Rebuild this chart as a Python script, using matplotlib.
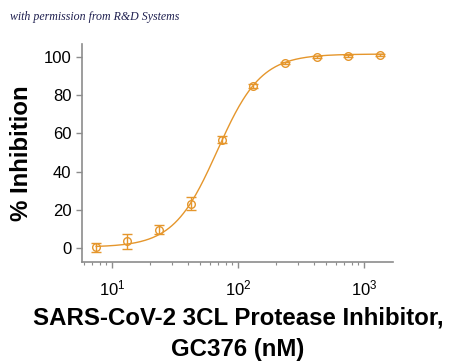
import numpy as np
import matplotlib.pyplot as plt
from matplotlib.ticker import LogLocator, NullFormatter

# Data
conc_nM = [7.5, 13.3, 23.7, 42.2, 75.0, 133.0, 237.0, 422.0, 750.0, 1333.0]
inhibition = [0.5, 3.5, 9.6, 23.2, 56.7, 85.0, 96.9, 99.8, 100.7, 101.2]
inhibition_err = [2.4, 3.7, 2.4, 3.3, 1.9, 1.0, 0.6, 0.5, 0.5, 0.5]

# 4-parameter logistic fit (parameters)
fit_bottom = 0.5
fit_top = 101.5
fit_ic50 = 68.7
fit_hill = 2.5

y_ticks = [0, 20, 40, 60, 80, 100]
xlabel_lines = ["SARS-CoV-2 3CL Protease Inhibitor,", "GC376 (nM)"]

orange = "#E5962C"
gray = "#8C8C8C"


def four_pl(x):
    return fit_bottom + (fit_top - fit_bottom) / (1 + (fit_ic50 / x) ** fit_hill)


def main():
    plt.rcParams["font.family"] = ["Liberation Sans", "DejaVu Sans"]
    fig = plt.figure(figsize=(4.5, 3.63), dpi=100)
    ax = fig.add_axes([0.182, 0.278, 0.691, 0.601])

    x_fit = np.logspace(np.log10(7.5), np.log10(1420), 300)
    ax.plot(x_fit, four_pl(x_fit), color=orange, lw=1.0)
    ax.errorbar(conc_nM, inhibition, yerr=inhibition_err, fmt="o",
                mfc="none", mec=orange, ms=5.5, mew=1.0,
                ecolor=orange, elinewidth=1.0, capsize=3.5, capthick=1.0)

    ax.set_xscale("log")
    ax.set_xlim(5.78, 1700)
    ax.set_ylim(-7.3, 106.8)
    ax.set_yticks(y_ticks)
    ax.xaxis.set_major_locator(LogLocator(base=10))
    ax.xaxis.set_minor_locator(LogLocator(base=10, subs=np.arange(2, 10)))
    ax.xaxis.set_minor_formatter(NullFormatter())

    for side in ["top", "right"]:
        ax.spines[side].set_visible(False)
    for side in ["left", "bottom"]:
        ax.spines[side].set_color(gray)
        ax.spines[side].set_linewidth(1.2)

    ax.tick_params(axis="both", which="major", colors=gray, labelcolor="black",
                   labelsize=12, length=4, width=1)
    ax.tick_params(axis="x", which="minor", colors=gray, length=2.5, width=0.8)
    ax.tick_params(axis="x", which="major", pad=8)

    ax.set_ylabel("% Inhibition", fontsize=17.3, fontweight="bold", labelpad=8)
    fig.text(0.529, 0.124, xlabel_lines[0], ha="center", va="center",
             fontsize=17.3, fontweight="bold")
    fig.text(0.529, 0.036, xlabel_lines[1], ha="center", va="center",
             fontsize=17.3, fontweight="bold")

    fig.text(0.022, 0.953, "with permission from R&D Systems", fontsize=8.6,
             style="italic", family="Liberation Serif", color="#1F2050",
             va="center")

    fig.savefig("out.png", dpi=100)


if __name__ == "__main__":
    main()
